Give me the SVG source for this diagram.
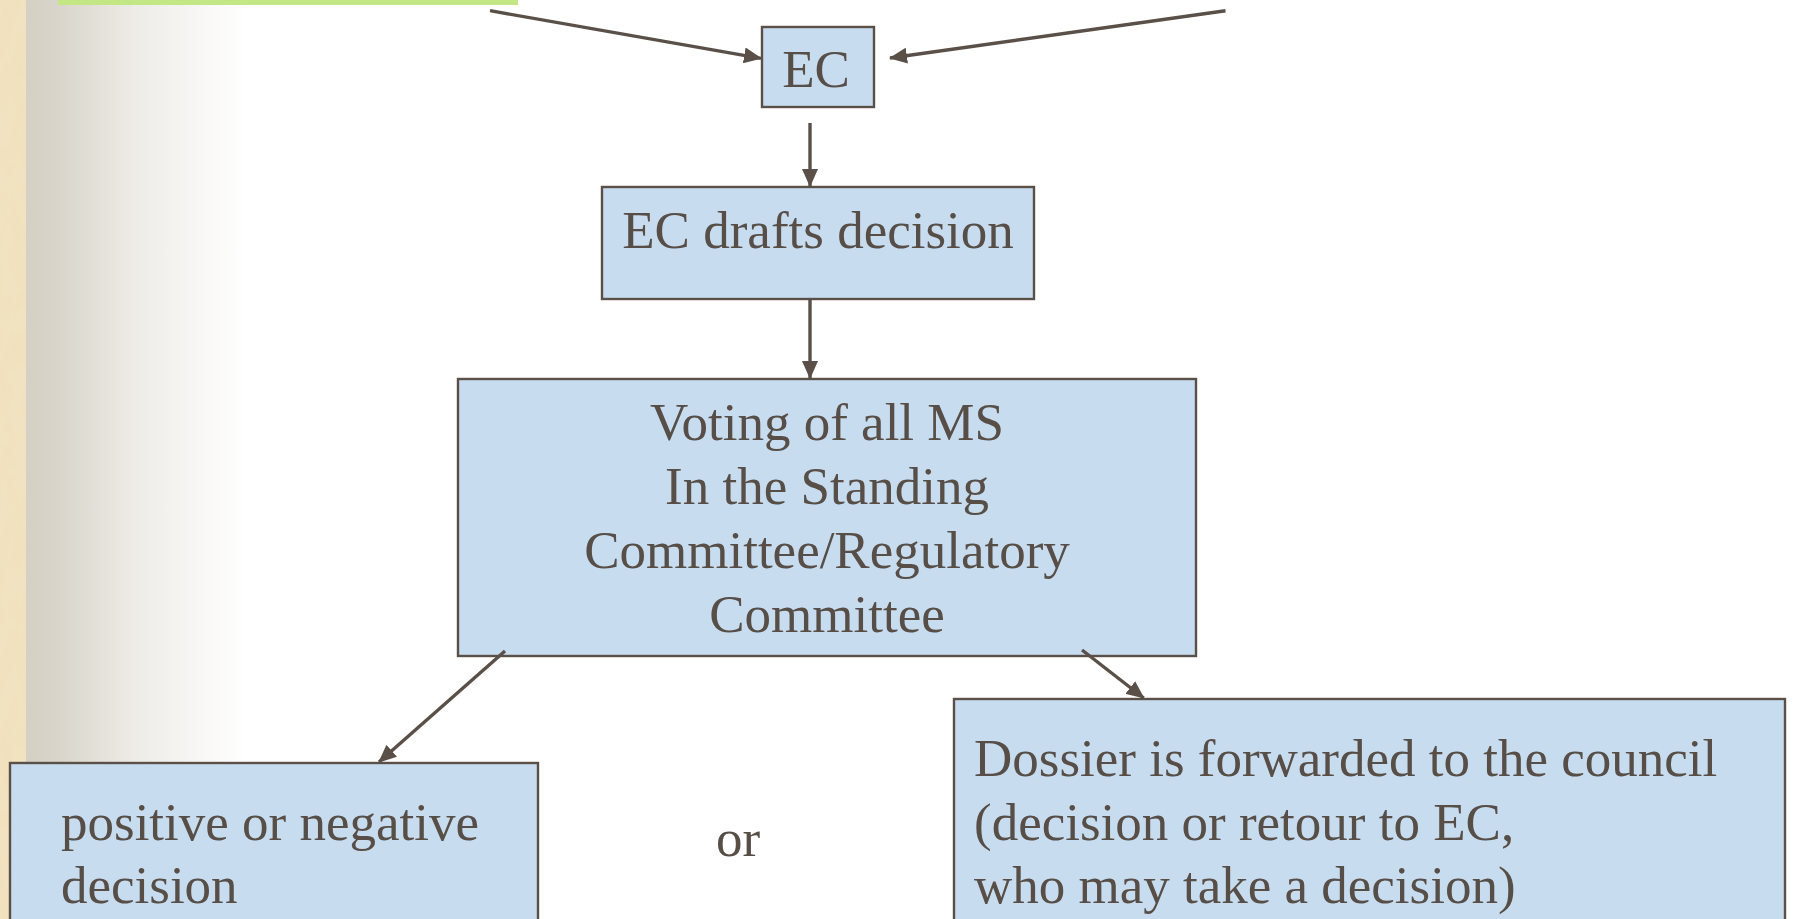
<svg xmlns="http://www.w3.org/2000/svg" width="1793" height="919" viewBox="0 0 1793 919">
<defs>
<style>
.box{fill:#c7dcef;stroke:#5a5048;stroke-width:2.4}
.t{font-family:"Liberation Serif","Times New Roman",serif;font-size:53px;fill:#574e47}
.c{text-anchor:middle}
.conn line{stroke:#5a5048;stroke-width:3.4;marker-end:url(#ah)}
</style>
<linearGradient id="sh" x1="0" y1="0" x2="1" y2="0">
<stop offset="0" stop-color="#d4d0c4"/>
<stop offset="0.15" stop-color="#d9d5cb"/>
<stop offset="0.5" stop-color="#eeece7"/>
<stop offset="1" stop-color="#ffffff"/>
</linearGradient>
<filter id="tex" x="0" y="0" width="1" height="1">
<feTurbulence type="fractalNoise" baseFrequency="0.08 0.03" numOctaves="3" seed="4" result="n"/>
<feColorMatrix in="n" type="matrix" values="0 0 0 0 0.88  0 0 0 0 0.78  0 0 0 0 0.58  0 0 0 0.6 0" result="c"/>
<feComposite in="c" in2="SourceGraphic" operator="atop"/>
</filter>
<marker id="ah" viewBox="0 0 18 16" refX="17" refY="8" markerWidth="18" markerHeight="16" markerUnits="userSpaceOnUse" orient="auto">
<path d="M0,0 L18,8 L0,16 Z" fill="#5a5048"/>
</marker>
</defs>
<rect x="0" y="0" width="1793" height="919" fill="#ffffff"/>
<g id="background">
<rect x="0" y="0" width="26" height="919" fill="#f1e0bb" filter="url(#tex)"/>
<rect x="26" y="0" width="220" height="919" fill="url(#sh)"/>
<rect x="58" y="0" width="460" height="5" fill="#c2e784"/>
</g>
<g id="node-ec">
<rect class="box" x="762" y="27" width="112" height="80"/>
<text class="t c" x="816" y="87">EC</text>
</g>
<g id="node-drafts">
<rect class="box" x="602" y="187" width="432" height="112"/>
<text class="t c" x="818" y="248">EC drafts decision</text>
</g>
<g id="node-voting">
<rect class="box" x="458" y="379" width="738" height="277"/>
<text class="t c" x="827" y="440">Voting of all MS</text>
<text class="t c" x="827" y="504">In the Standing</text>
<text class="t c" x="827" y="568">Committee/Regulatory</text>
<text class="t c" x="827" y="632">Committee</text>
</g>
<g id="node-decision">
<rect class="box" x="10" y="763" width="528" height="170"/>
<text class="t" x="61" y="840">positive or negative</text>
<text class="t" x="61" y="903">decision</text>
</g>
<g id="label-or">
<text class="t" x="716" y="856">or</text>
</g>
<g id="node-council">
<rect class="box" x="954" y="699" width="831" height="234"/>
<text class="t" x="974" y="776">Dossier is forwarded to the council</text>
<text class="t" x="974" y="840">(decision or retour to EC,</text>
<text class="t" x="974" y="903">who may take a decision)</text>
</g>
<g id="connectors" class="conn">
<line x1="490" y1="10.7" x2="761" y2="58.3"/>
<line x1="1225.5" y1="10.7" x2="890" y2="58"/>
<line x1="810" y1="123" x2="810" y2="186"/>
<line x1="810" y1="300" x2="810" y2="378"/>
<line x1="505" y1="651" x2="379" y2="762"/>
<line x1="1082" y1="650" x2="1143.7" y2="698"/>
</g>
</svg>
